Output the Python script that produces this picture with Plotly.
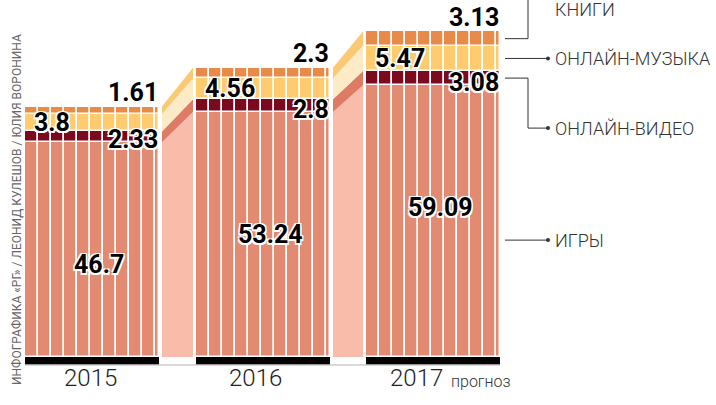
import numpy as np
import plotly.graph_objects as go

years = ["2015", "2016", "2017"]
games = [46.7, 53.24, 59.09]
video = [2.33, 2.8, 3.08]
music = [3.8, 4.56, 5.47]
books = [1.61, 2.3, 3.13]
names = ["ИГРЫ", "ОНЛАЙН-ВИДЕО", "ОНЛАЙН-МУЗЫКА", "КНИГИ"]
credit = "ИНФОГРАФИКА «РГ» / ЛЕОНИД КУЛЕШОВ / ЮЛИЯ ВОРОНИНА"
note = "прогноз"

bar_colors = ["#e28b72", "#7b0a1f", "#fecb6f", "#e88a48"]
band_colors = ["#f9bcab", "#df7a65", "#fdebc7", "#fbc972"]

# everything is laid out in pixel-like units on x, value units on y
W, H = 716, 405
PX = 4.6      # pixels per value unit
Y0 = 357      # pixel row of zero
ymin, ymax = -(H - Y0) / PX, Y0 / PX

bar_left = [25, 196, 366]
bar_w = 134
col_w = [13] * 10 + [4]
centers = [l + bar_w / 2 for l in bar_left]

vals = np.array([games, video, music, books])
bases = np.vstack([np.zeros(3), np.cumsum(vals, axis=0)[:-1]])
tops = bases + vals

fig = go.Figure()

# baseline
fig.add_trace(go.Scatter(x=[bar_left[0], bar_left[-1] + bar_w], y=[-8 / PX] * 2,
                         mode="lines", line=dict(color="#cccccc", width=1.5),
                         hoverinfo="skip"))

# connecting bands between years
for i in range(len(years) - 1):
    x0 = bar_left[i] + bar_w + 3
    x1 = bar_left[i + 1] - 3
    for k in range(4):
        fig.add_trace(go.Scatter(
            x=[x0, x1, x1, x0, x0],
            y=[bases[k, i], bases[k, i + 1], tops[k, i + 1], tops[k, i], bases[k, i]],
            fill="toself", fillcolor=band_colors[k], mode="lines",
            line=dict(width=0), hoverinfo="skip"))

# striped stacked bars
for k in range(4):
    xs, ys, bs, ws = [], [], [], []
    for i in range(len(years)):
        off = bar_left[i]
        for w in col_w:
            xs.append(off + w / 2)
            ws.append(w)
            ys.append(vals[k, i])
            bs.append(bases[k, i])
            off += w
    fig.add_trace(go.Bar(x=xs, y=ys, base=bs, width=ws, name=names[k],
                         marker=dict(color=bar_colors[k],
                                     line=dict(color="white", width=1.5)),
                         hoverinfo="skip"))

# black foot under each bar
fig.add_trace(go.Bar(x=centers, y=[8 / PX] * 3, base=[-8 / PX] * 3, width=bar_w,
                     marker=dict(color="black", line=dict(width=0)), hoverinfo="skip"))

num_font = dict(family="Roboto, DejaVu Sans", size=25, color="black", weight="bold",
                shadow="1.5px 1.5px 0 #fff, -1.5px -1.5px 0 #fff, 1.5px -1.5px 0 #fff, -1.5px 1.5px 0 #fff")
ann = []
for i in range(len(years)):
    right = bar_left[i] + bar_w
    # games
    ann.append(dict(x=centers[i] + 7, y=games[i] - 26.5, text=str(games[i]),
                    showarrow=False, font=num_font))
    # video, right aligned at video bottom
    ann.append(dict(x=right + 1, y=bases[1, i] + 0.5, text=str(video[i]), xanchor="right",
                    showarrow=False, font=num_font))
    # music, left aligned in segment
    ann.append(dict(x=bar_left[i] + 7, y=bases[2, i] + music[i] / 2, text=str(music[i]),
                    xanchor="left", showarrow=False, font=num_font))
    # books, above the bar
    ann.append(dict(x=right + 1, y=tops[3, i] + 14 / PX, text=str(books[i]), xanchor="right",
                    showarrow=False, font=num_font))

# year labels
yr_font = dict(family="Roboto", size=24, color="#222222", weight=300)
yr_off = [-2, -8, -17]
for i, yv in enumerate(years):
    ann.append(dict(x=centers[i] + yr_off[i], y=-21 / PX, text=yv, showarrow=False, font=yr_font))
ann.append(dict(x=449, y=-24 / PX, text=note, xanchor="left", showarrow=False,
                font=dict(family="Roboto", size=16, color="#333333", weight=300)))

# leader lines and series labels on the right
R = bar_left[-1] + bar_w
lx0, lxm, lx1 = R + 5, 528, 548
line_style = dict(color="#333333", width=1)
y_b = bases[3, 2] + books[2] / 2
y_m = bases[2, 2] + music[2] / 2
y_v = bases[1, 2] + video[2] / 2
y_v2 = y_v - 50 / PX
y_g = games[2] * 0.43
y_top_lab = ymax - 9 / PX
fig.add_trace(go.Scatter(x=[lx0, lxm, lxm], y=[y_b, y_b, ymax], mode="lines",
                         line=line_style, hoverinfo="skip"))
fig.add_trace(go.Scatter(x=[lx0, lx1], y=[y_m, y_m], mode="lines", line=line_style,
                         hoverinfo="skip"))
fig.add_trace(go.Scatter(x=[lx0, lxm, lxm, lx1], y=[y_v, y_v, y_v2, y_v2], mode="lines",
                         line=line_style, hoverinfo="skip"))
fig.add_trace(go.Scatter(x=[lx0, lx1], y=[y_g, y_g], mode="lines", line=line_style,
                         hoverinfo="skip"))
fig.add_trace(go.Scatter(x=[lx1] * 3, y=[y_m, y_v2, y_g], mode="markers",
                         marker=dict(color="#333333", size=4), hoverinfo="skip"))

lab_font = dict(family="Roboto", size=18, color="#333333", weight=300)
for txt, yy in [(names[3], y_top_lab), (names[2], y_m), (names[1], y_v2), (names[0], y_g)]:
    ann.append(dict(x=553, y=yy, text=txt, xanchor="left", showarrow=False, font=lab_font))

# credit, vertical on the left
ann.append(dict(xref="paper", x=8 / W, y=(Y0 - 210) / PX, text=credit, textangle=-90,
                showarrow=False, font=dict(family="Roboto", size=12, color="#666666")))

fig.update_layout(
    width=W, height=H, margin=dict(l=0, r=0, t=0, b=0),
    paper_bgcolor="white", plot_bgcolor="white",
    barmode="overlay", showlegend=False, bargap=0,
    xaxis=dict(range=[0, W], visible=False, fixedrange=True),
    yaxis=dict(range=[ymin, ymax], visible=False, fixedrange=True),
    annotations=ann,
)

fig.write_html("out.html", post_script="document.body.style.margin='0';",
               config={"displayModeBar": False})
